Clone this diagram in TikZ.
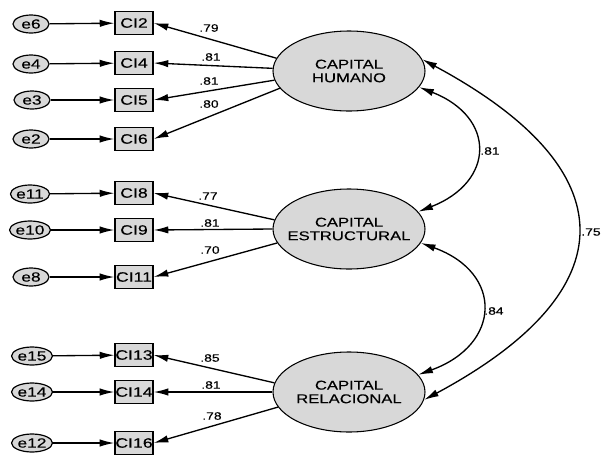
\documentclass[tikz,border=0pt]{standalone}
\usepackage{fontspec}
\usetikzlibrary{shapes.geometric,arrows.meta}
\newfontfamily\sfx[FakeStretch=1.3,FakeBold=0.3]{Liberation Sans}
\definecolor{fillg}{HTML}{D8D8D8}
\newcommand{\latfont}{\sfx\fontsize{9.6}{10.2}\selectfont}
\newcommand{\cifont}{\sfx\fontsize{10.2}{11}\selectfont}
\newcommand{\efont}{\sfx\fontsize{10}{11}\selectfont}
\newcommand{\labfont}{\sfx\fontsize{8}{9}\selectfont}
\begin{document}
\begin{tikzpicture}[x=0.75pt,y=-0.75pt,
  err/.style={ellipse, draw, line width=0.9pt, fill=fillg, minimum width=27pt, minimum height=13.5pt, inner sep=0pt, font=\efont},
  obs/.style={rectangle, draw, line width=0.9pt, fill=fillg, minimum width=28.5pt, minimum height=17.5pt, inner sep=0pt, font=\cifont},
  lat/.style={ellipse, draw, line width=0.8pt, fill=fillg, minimum width=114pt, minimum height=60pt, inner sep=0pt},
  lattext/.style={font=\latfont, align=center, inner sep=0pt},
  lab/.style={font=\labfont, inner sep=0pt},
  arr/.style={-{Latex[length=11pt,width=5.5pt]}, line width=1pt},
  cov/.style={{Latex[length=11pt,width=5.5pt]}-{Latex[length=11pt,width=5.5pt]}, line width=1pt}]
\useasboundingbox (0,0) rectangle (601,458);
% latent variables
\node[lat] (hum) at (349,71) {};
\node[lattext] (humt) at (349,71) {CAPITAL\\HUMANO};
\node[lat] (est) at (349,229) {};
\node[lattext] (estt) at (349,229) {CAPITAL\\ESTRUCTURAL};
\node[lat] (rel) at (349,392) {};
\node[lattext] (relt) at (349,392) {CAPITAL\\RELACIONAL};
% observed
\node[obs] (ci2) at (134,23) {CI2};
\node[obs] (ci4) at (134,63) {CI4};
\node[obs] (ci5) at (134,100) {CI5};
\node[obs] (ci6) at (134,139) {CI6};
\node[obs] (ci8) at (134,193) {CI8};
\node[obs] (ci9) at (134,230) {CI9};
\node[obs] (ci11) at (134,277) {CI11};
\node[obs] (ci13) at (134,355) {CI13};
\node[obs] (ci14) at (134,392) {CI14};
\node[obs] (ci16) at (134,443) {CI16};
% errors
\node[err] (e6) at (31,24) {e6};
\node[err] (e4) at (31,64) {e4};
\node[err] (e3) at (32,100) {e3};
\node[err] (e2) at (31,139) {e2};
\node[err] (e11) at (30,194) {e11};
\node[err] (e10) at (30,230) {e10};
\node[err] (e8) at (31,277) {e8};
\node[err] (e15) at (32,356) {e15};
\node[err] (e14) at (32,392) {e14};
\node[err] (e12) at (32,443) {e12};
% error arrows
\foreach \e/\c in {e6/ci2,e4/ci4,e3/ci5,e2/ci6,e11/ci8,e10/ci9,e8/ci11,e15/ci13,e14/ci14,e12/ci16}
  \draw[arr] (\e) -- (\c);
% loadings
\draw[arr] (hum.170) -- (ci2.east);
\draw[arr] (hum.178) -- (ci4.east);
\draw[arr] (hum.187) -- (ci5.east);
\draw[arr] (hum.194) -- (ci6.east);
\draw[arr] (est.173) -- (ci8.east);
\draw[arr] (est.180) -- (ci9.east);
\draw[arr] (est.191) -- (ci11.east);
\draw[arr] (rel.173) -- (ci13.east);
\draw[arr] (rel.180) -- (ci14.east);
\draw[arr] (rel.192) -- (ci16.east);
\node[lab] (l2) at (209,28) {.79};
\node[lab] (l4) at (211,57) {.81};
\node[lab] (l5) at (209,81) {.81};
\node[lab] (l6) at (209,104) {.80};
\node[lab] (l8) at (208,196) {.77};
\node[lab] (l9) at (210,223) {.81};
\node[lab] (l11) at (210,250) {.70};
\node[lab] (l13) at (210,358) {.85};
\node[lab] (l14) at (211,385) {.81};
\node[lab] (l16) at (212,416) {.78};
% covariances
\draw[cov] (hum.-13) .. controls +(77,30) and +(77,-30) .. (est.14);
\draw[cov] (est.-11) .. controls +(83,30) and +(83,-30) .. (rel.14);
\draw[cov] (hum.9) .. controls +(205,110) and +(205,-110) .. (rel.-6);
\node[lab] (c1) at (490,151) {.81};
\node[lab] (c2) at (494,311) {.84};
\node[lab] (c3) at (591,232) {.75};
\end{tikzpicture}
\end{document}
